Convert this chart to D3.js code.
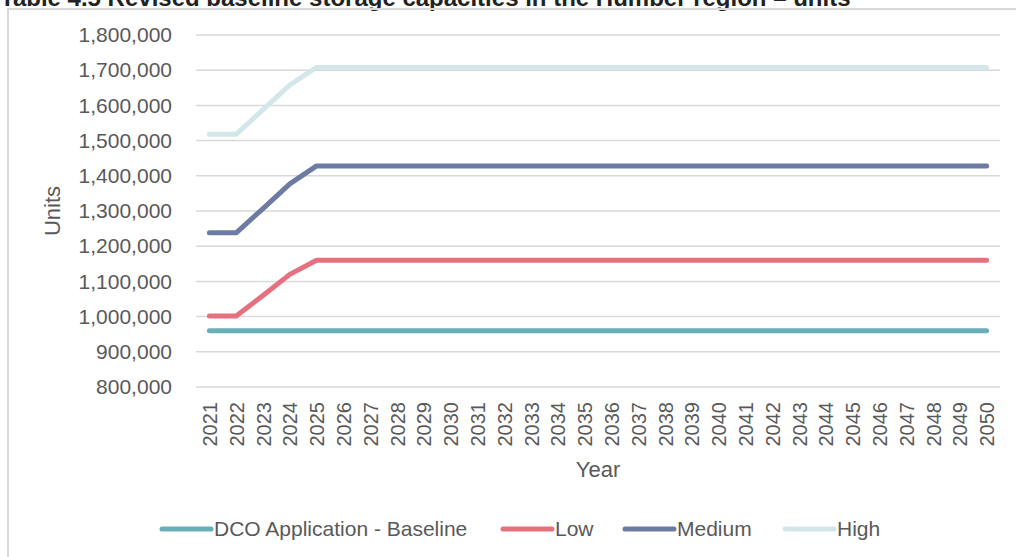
<!DOCTYPE html>
<html>
<head>
    <meta charset="utf-8">
    <title>Humber storage capacities</title>
    <script src="https://d3js.org/d3.v7.min.js"></script>
    <style>
        body { margin: 0; background: #fff; }
        text { font-family: "Liberation Sans", Arial, sans-serif; }
    </style>
</head>
<body>
<script>
    // data
    let years = ["2021","2022","2023","2024","2025","2026","2027","2028","2029","2030",
        "2031","2032","2033","2034","2035","2036","2037","2038","2039","2040",
        "2041","2042","2043","2044","2045","2046","2047","2048","2049","2050"];
    let baseline = [960000,960000,960000,960000,960000,960000,960000,960000,960000,960000,
        960000,960000,960000,960000,960000,960000,960000,960000,960000,960000,
        960000,960000,960000,960000,960000,960000,960000,960000,960000,960000];
    let low = [1002000,1002000,1060000,1120000,1160000,1160000,1160000,1160000,1160000,1160000,
        1160000,1160000,1160000,1160000,1160000,1160000,1160000,1160000,1160000,1160000,
        1160000,1160000,1160000,1160000,1160000,1160000,1160000,1160000,1160000,1160000];
    let medium = [1238000,1238000,1307000,1377000,1428000,1428000,1428000,1428000,1428000,1428000,
        1428000,1428000,1428000,1428000,1428000,1428000,1428000,1428000,1428000,1428000,
        1428000,1428000,1428000,1428000,1428000,1428000,1428000,1428000,1428000,1428000];
    let high = [1518000,1518000,1588000,1658000,1708000,1708000,1708000,1708000,1708000,1708000,
        1708000,1708000,1708000,1708000,1708000,1708000,1708000,1708000,1708000,1708000,
        1708000,1708000,1708000,1708000,1708000,1708000,1708000,1708000,1708000,1708000];
    let yTicks = [800000,900000,1000000,1100000,1200000,1300000,1400000,1500000,1600000,1700000,1800000];
    let seriesNames = ["DCO Application - Baseline", "Low", "Medium", "High"];
    let seriesValues = [baseline, low, medium, high];
    let colors = ["#68afb9", "#e5717f", "#6c7ba3", "#d3e6ea"];

    let width = 1016, height = 557;
    let svg = d3.select('body').append('svg').attr("width", width).attr("height", height);

    // title, cut off at the top like the source
    svg.append("text").attr("x", 0).attr("y", 6)
        .attr("font-size", 24).attr("font-weight", "bold").attr("fill", "#222")
        .text("Table 4.5 Revised baseline storage capacities in the Humber region \u2013 units");

    // chart frame
    svg.append("rect").attr("x", 8).attr("y", 9).attr("width", 1030).attr("height", 570)
        .attr("fill", "none").attr("stroke", "#d9d9d9").attr("stroke-width", 2);

    let x = d3.scalePoint().domain(years).range([196, 1000]).padding(0.5);
    let y = d3.scaleLinear().domain([800000, 1800000]).range([387, 35]);

    // gridlines
    svg.append("g").selectAll("line").data(yTicks).enter()
        .append("line")
        .attr("x1", 196).attr("x2", 1000)
        .attr("y1", d => y(d)).attr("y2", d => y(d))
        .attr("stroke", "#d9d9d9").attr("stroke-width", 1.5);

    // y axis
    let yAxis = svg.append("g").attr("transform", "translate(196,0)")
        .call(d3.axisLeft(y).tickValues(yTicks).tickSize(0).tickPadding(24).tickFormat(d3.format(",")));
    yAxis.select(".domain").remove();
    yAxis.selectAll("text").attr("font-size", 21).attr("fill", "#595959")
        .attr("font-family", "Liberation Sans, Arial, sans-serif");

    // x axis, rotated labels
    let xAxis = svg.append("g").attr("transform", "translate(0,387)")
        .call(d3.axisBottom(x).tickSize(0));
    xAxis.select(".domain").remove();
    xAxis.selectAll("text")
        .attr("font-size", 20).attr("fill", "#595959")
        .attr("font-family", "Liberation Sans, Arial, sans-serif")
        .attr("transform", "rotate(-90)")
        .attr("text-anchor", "end")
        .attr("x", -15).attr("y", 0).attr("dy", "0.35em");

    // axis titles
    svg.append("text").attr("x", 598).attr("y", 477).attr("text-anchor", "middle")
        .attr("font-size", 22).attr("fill", "#595959").text("Year");
    svg.append("text").attr("transform", "translate(60,211) rotate(-90)").attr("text-anchor", "middle")
        .attr("font-size", 22).attr("fill", "#595959").text("Units");

    // lines
    let line = d3.line().x((d, i) => x(years[i])).y(d => y(d));
    svg.append("g").selectAll("path").data(seriesValues).enter()
        .append("path")
        .attr("d", d => line(d))
        .attr("fill", "none")
        .attr("stroke", (d, i) => colors[i])
        .attr("stroke-width", 5)
        .attr("stroke-linecap", "round")
        .attr("stroke-linejoin", "round");

    // legend
    let legendX = [162, 503, 625, 785];
    let legend = svg.append("g").selectAll("g").data(seriesNames).enter()
        .append("g").attr("transform", (d, i) => "translate(" + legendX[i] + ",529)");
    legend.append("line").attr("x1", 0).attr("x2", 49).attr("y1", 0).attr("y2", 0)
        .attr("stroke", (d, i) => colors[i]).attr("stroke-width", 5).attr("stroke-linecap", "round");
    legend.append("text").attr("x", 52).attr("y", 0).attr("dy", "0.35em")
        .attr("font-size", 21).attr("fill", "#595959").text(d => d);
</script>
</body>
</html>
